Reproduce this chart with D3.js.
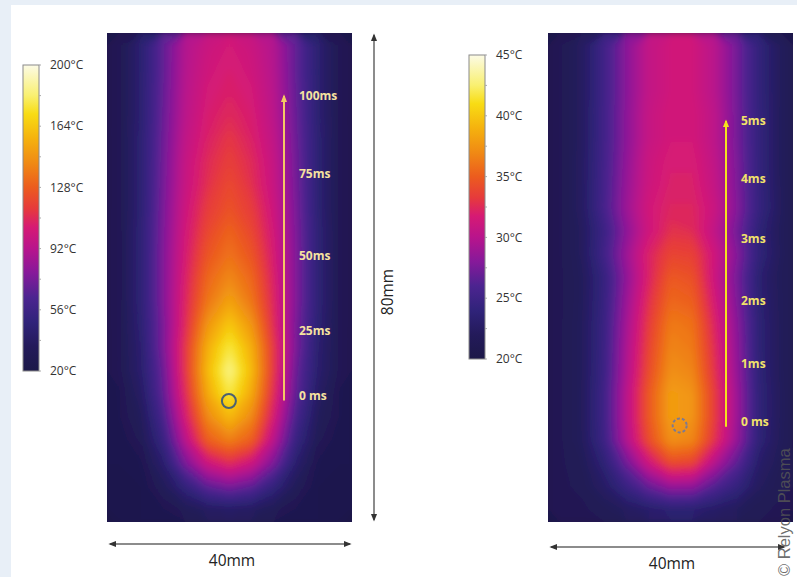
<!DOCTYPE html>
<html>
<head>
<meta charset="utf-8">
<script src="https://cdn.jsdelivr.net/npm/d3@7"></script>
<style>
  body { margin: 0; background: #fff; }
  svg { display: block; }
</style>
</head>
<body>
<svg id="chart" width="797" height="577"></svg>
<script>
// ---- data: temperature fields (°C), 11 columns x 21 rows, top row first ----
const leftGrid = [
  [29, 44, 68, 90, 99, 103, 99, 90, 68, 44, 29],
  [29, 44, 68, 91, 101, 105, 101, 91, 68, 44, 29],
  [29, 44, 69, 92, 103, 107, 103, 92, 69, 44, 29],
  [29, 44, 70, 93, 105, 110, 105, 93, 70, 44, 29],
  [29, 45, 71, 95, 107, 114, 107, 95, 71, 45, 29],
  [29, 45, 72, 97, 110, 117, 110, 97, 72, 45, 29],
  [29, 45, 73, 98, 112, 121, 112, 98, 73, 45, 29],
  [29, 45, 74, 100, 116, 124, 116, 100, 74, 45, 29],
  [29, 46, 75, 102, 120, 130, 120, 102, 75, 46, 29],
  [29, 46, 76, 104, 125, 135, 125, 104, 76, 46, 29],
  [29, 46, 76, 106, 131, 142, 131, 106, 76, 46, 29],
  [29, 46, 76, 108, 136, 151, 136, 108, 76, 46, 29],
  [29, 45, 74, 110, 146, 164, 146, 110, 74, 45, 29],
  [29, 43, 74, 114, 155, 177, 155, 114, 74, 43, 29],
  [29, 42, 70, 114, 159, 186, 159, 114, 70, 42, 29],
  [27, 38, 67, 110, 153, 177, 153, 110, 67, 38, 27],
  [27, 34, 60, 103, 142, 159, 142, 103, 60, 34, 27],
  [25, 31, 52, 92, 128, 139, 128, 92, 52, 31, 25],
  [25, 27, 42, 74, 99, 110, 99, 74, 42, 27, 25],
  [24, 25, 33, 49, 67, 74, 67, 49, 33, 25, 24],
  [24, 25, 27, 31, 36, 38, 36, 31, 27, 25, 24]
];
const rightGrid = [
  [21.3, 22.3, 25.1, 28.1, 30.5, 31.3, 31.3, 30.0, 27.3, 24.0, 22.0],
  [21.3, 22.3, 25.1, 28.1, 30.5, 31.3, 31.3, 30.0, 27.3, 24.0, 22.0],
  [21.3, 22.3, 25.1, 28.1, 30.5, 31.3, 31.3, 30.0, 27.3, 24.0, 22.0],
  [21.3, 22.3, 25.2, 28.2, 30.7, 31.5, 31.5, 30.2, 27.4, 24.1, 22.0],
  [21.3, 22.3, 25.2, 28.2, 30.7, 31.5, 31.5, 30.2, 27.4, 24.1, 22.0],
  [21.3, 22.4, 25.3, 28.4, 31.0, 31.8, 31.8, 30.4, 27.6, 24.1, 22.0],
  [21.3, 22.4, 25.4, 28.6, 31.1, 32.0, 32.0, 30.6, 27.7, 24.2, 22.0],
  [21.3, 22.4, 25.5, 28.8, 31.4, 32.3, 32.3, 30.9, 27.9, 24.3, 22.1],
  [21.3, 22.2, 24.8, 28.2, 31.2, 32.8, 32.6, 30.4, 27.3, 23.7, 21.9],
  [21.3, 22.2, 25.1, 28.8, 32.1, 33.8, 33.6, 31.2, 27.9, 23.9, 22.0],
  [21.3, 22.0, 24.3, 28.3, 32.1, 34.8, 34.4, 31.0, 27.4, 23.3, 21.8],
  [21.3, 22.0, 24.4, 28.7, 32.7, 35.5, 35.1, 31.5, 27.7, 23.4, 21.9],
  [21.3, 22.1, 24.6, 29.1, 33.3, 36.3, 35.9, 32.1, 28.1, 23.6, 21.9],
  [21.3, 22.1, 24.7, 29.4, 33.7, 36.8, 36.3, 32.5, 28.3, 23.6, 21.9],
  [21.3, 22.1, 24.8, 29.6, 34.1, 37.3, 36.8, 32.8, 28.5, 23.7, 21.9],
  [21.3, 22.1, 25.0, 30.0, 34.7, 38.0, 37.5, 33.3, 28.8, 23.8, 22.0],
  [21.3, 22.1, 25.0, 30.0, 34.7, 38.0, 37.5, 33.3, 28.8, 23.8, 22.0],
  [21.3, 22.1, 24.8, 29.6, 34.1, 37.3, 36.8, 32.8, 28.5, 23.7, 21.9],
  [21.3, 21.7, 23.6, 27.1, 31.0, 34.0, 33.6, 29.7, 26.4, 22.8, 21.7],
  [21.3, 21.5, 22.6, 24.6, 26.8, 28.5, 28.3, 26.0, 24.2, 22.2, 21.5],
  [21.3, 21.3, 21.6, 22.2, 22.8, 23.3, 23.2, 22.6, 22.1, 21.5, 21.3]
];

// colour bar tick labels (°C)
const leftTicks = [20, 56, 92, 128, 164, 200];
const rightTicks = [20, 25, 30, 35, 40, 45];

// time markers and their distance from the bottom edge (mm)
const leftTimes = ["0 ms", "25ms", "50ms", "75ms", "100ms"];
const leftDist = [20.7, 31.3, 43.6, 57.0, 69.7];
const rightTimes = ["0 ms", "1ms", "2ms", "3ms", "4ms", "5ms"];
const rightDist = [16.4, 25.8, 36.2, 46.4, 56.2, 65.6];

// nozzle position [mm across, mm from bottom]
const leftNozzle = [19.9, 19.8];
const rightNozzle = [21.5, 15.8];

// ---- style ----
const cmapT = [0, .08, .16, .24, .32, .40, .47, .53, .60, .68, .76, .84, .90, 1];
const cmapC = ["#1c1848", "#231a5a", "#30237a", "#4c2490", "#86199a", "#b8148c", "#d61a74",
               "#e63a3c", "#ec5c1e", "#f08a14", "#f5b20e", "#f8dc14", "#f9f070", "#fcfbe6"];

const svg = d3.select("#chart");
svg.append("rect").attr("width", 797).attr("height", 577).attr("fill", "#e8eff7");
svg.append("rect").attr("x", 11).attr("y", 5).attr("width", 786).attr("height", 572).attr("fill", "#fff");

const defs = svg.append("defs");
defs.append("filter").attr("id", "soft")
  .attr("x", "-5%").attr("y", "-5%").attr("width", "110%").attr("height", "110%")
  .append("feGaussianBlur").attr("stdDeviation", 3.5);

function marker(id, color, size) {
  defs.append("marker").attr("id", id)
    .attr("viewBox", "0 0 10 10").attr("refX", 8).attr("refY", 5)
    .attr("markerUnits", "userSpaceOnUse")
    .attr("markerWidth", size).attr("markerHeight", size)
    .attr("orient", "auto-start-reverse")
    .append("path").attr("d", "M0,1 L10,5 L0,9 z").attr("fill", color);
}
marker("dim", "#333", 8);
marker("timeL", "#f3c865", 8);
marker("timeR", "#f4e21c", 8);

const font = "'Open Sans', 'Noto Sans', sans-serif";
const panelTop = 33, panelBottom = 522;
const yMM = d3.scaleLinear().domain([0, 80]).range([panelBottom, panelTop]);

function drawPanel(cs) {
  const xMM = d3.scaleLinear().domain([0, 40]).range([cs.x0, cs.x0 + 245]);
  const color = d3.scaleLinear()
    .domain(cmapT.map(t => cs.tmin + t * (cs.tmax - cs.tmin)))
    .range(cmapC).clamp(true);
  const h = panelBottom - panelTop;

  // heat map
  const n = cs.grid[0].length, m = cs.grid.length;
  const clipId = "clip" + cs.id;
  defs.append("clipPath").attr("id", clipId)
    .append("rect").attr("x", cs.x0).attr("y", panelTop).attr("width", 245).attr("height", h);
  const outer = svg.append("g").attr("clip-path", `url(#${clipId})`);
  outer.append("rect").attr("x", cs.x0).attr("y", panelTop).attr("width", 245).attr("height", h)
    .attr("fill", color(cs.tmin));
  const soft = outer.append("g").attr("filter", "url(#soft)");
  const hm = soft.append("g")
    .attr("transform", `translate(${cs.x0},${panelTop}) scale(${245 / n},${h / m})`);
  hm.append("rect").attr("x", -1).attr("y", -1).attr("width", n + 2).attr("height", m + 2)
    .attr("fill", color(cs.tmin));
  const thresholds = d3.range(cs.tmin, cs.tmax, cs.step);
  const contours = d3.contours().size([n, m]).thresholds(thresholds)(cs.grid.flat());
  hm.selectAll("path").data(contours).enter().append("path")
    .attr("d", d3.geoPath())
    .attr("fill", d => color(d.value + cs.step / 2));

  // colour bar
  const yBar = d3.scaleLinear().domain([cs.tmin, cs.tmax]).range(cs.barRange);
  const gradId = "grad" + cs.id;
  const grad = defs.append("linearGradient").attr("id", gradId)
    .attr("x1", 0).attr("y1", 1).attr("x2", 0).attr("y2", 0);
  cmapT.forEach((t, i) => grad.append("stop").attr("offset", t).attr("stop-color", cmapC[i]));
  svg.append("rect").attr("x", cs.barX).attr("y", cs.barRange[1])
    .attr("width", 16).attr("height", cs.barRange[0] - cs.barRange[1])
    .attr("fill", `url(#${gradId})`).attr("stroke", "#8a8a8a").attr("stroke-width", 1);
  const minor = d3.range(cs.tmin, cs.tmax + 0.001, (cs.ticks[1] - cs.ticks[0]) / 2);
  svg.append("g").selectAll("line").data(minor).enter().append("line")
    .attr("x1", cs.barX + 16).attr("x2", cs.barX + 18)
    .attr("y1", d => yBar(d)).attr("y2", d => yBar(d))
    .attr("stroke", "#aaa").attr("stroke-width", 1);
  svg.append("g").selectAll("text").data(cs.ticks).enter().append("text")
    .attr("x", cs.barX + 27).attr("y", d => yBar(d)).attr("dy", "0.35em")
    .attr("font-family", font).attr("font-size", 12).attr("fill", "#333")
    .text(d => d + "°C");

  // time arrow
  svg.append("line")
    .attr("x1", cs.arrowX).attr("x2", cs.arrowX)
    .attr("y1", yMM(cs.dist[0]) + 5).attr("y2", yMM(cs.dist[cs.dist.length - 1]))
    .attr("stroke", cs.arrowColor).attr("stroke-width", 2)
    .attr("marker-end", `url(#${cs.marker})`);
  svg.append("g").selectAll("text").data(cs.times).enter().append("text")
    .attr("x", cs.arrowX + 15).attr("y", (d, i) => yMM(cs.dist[i])).attr("dy", "0.35em")
    .attr("font-family", font).attr("font-size", 12).attr("font-weight", 700)
    .attr("fill", cs.labelColor)
    .text(d => d);

  // nozzle
  svg.append("circle")
    .attr("cx", xMM(cs.nozzle[0])).attr("cy", yMM(cs.nozzle[1])).attr("r", 7)
    .attr("fill", "none").attr("stroke", cs.nozzleColor).attr("stroke-width", 2)
    .attr("stroke-dasharray", cs.nozzleDash);

  // width dimension
  svg.append("line")
    .attr("x1", cs.x0 + 3).attr("x2", cs.dimEnd)
    .attr("y1", cs.dimY).attr("y2", cs.dimY)
    .attr("stroke", "#666").attr("stroke-width", 1.5)
    .attr("marker-start", "url(#dim)").attr("marker-end", "url(#dim)");
  svg.append("text")
    .attr("x", cs.dimLabelX).attr("y", cs.dimY + 17).attr("dy", "0.35em")
    .attr("text-anchor", "middle")
    .attr("font-family", font).attr("font-size", 15.5).attr("fill", "#222")
    .text("40mm");
}

drawPanel({
  id: "L", x0: 107, grid: leftGrid, tmin: 20, tmax: 200, step: 2.5,
  ticks: leftTicks, barX: 23, barRange: [371, 65],
  times: leftTimes, dist: leftDist, arrowX: 284,
  arrowColor: "#f3c865", labelColor: "#f6e2a0", marker: "timeL",
  nozzle: leftNozzle, nozzleColor: "#4b6172", nozzleDash: null,
  dimY: 544, dimEnd: 350, dimLabelX: 232
});
drawPanel({
  id: "R", x0: 548, grid: rightGrid, tmin: 20, tmax: 45, step: 0.35,
  ticks: rightTicks, barX: 469, barRange: [359, 55],
  times: rightTimes, dist: rightDist, arrowX: 726,
  arrowColor: "#f4e21c", labelColor: "#f2e26a", marker: "timeR",
  nozzle: rightNozzle, nozzleColor: "#7c7a92", nozzleDash: "3,2",
  dimY: 547, dimEnd: 784, dimLabelX: 672
});

// height dimension (80 mm)
svg.append("line")
  .attr("x1", 374).attr("x2", 374)
  .attr("y1", yMM(80) + 2).attr("y2", yMM(0) - 2)
  .attr("stroke", "#666").attr("stroke-width", 1.5)
  .attr("marker-start", "url(#dim)").attr("marker-end", "url(#dim)");
svg.append("text")
  .attr("transform", "translate(388,292) rotate(-90)")
  .attr("text-anchor", "middle").attr("dy", "0.35em")
  .attr("font-family", font).attr("font-size", 15.5).attr("fill", "#222")
  .text("80mm");

// credit
svg.append("text")
  .attr("transform", "translate(790,576) rotate(-90)")
  .attr("font-family", "'Liberation Sans', Arial, sans-serif").attr("font-size", 16.5)
  .attr("fill", "#555").attr("fill-opacity", 0.85)
  .text("© Relyon Plasma");
</script>
</body>
</html>
